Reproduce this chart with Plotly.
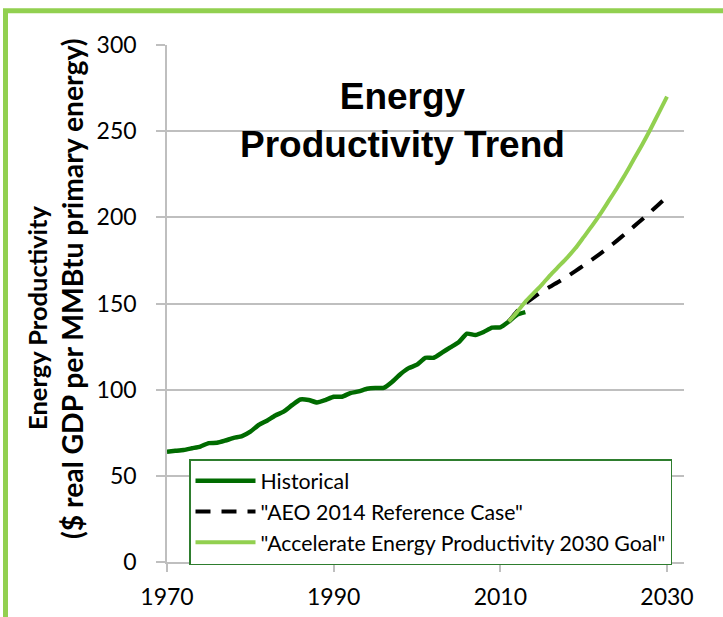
import plotly.graph_objects as go

# ---- data ----
hist_years = list(range(1970, 2014))
hist_values = [64.0, 64.5, 65.0, 66.0, 67.0, 69.0, 69.2, 70.5, 72.0, 73.0,
               75.6, 79.5, 82.0, 85.0, 87.3, 91.0, 94.3, 94.0, 92.6, 94.0,
               95.9, 95.9, 98.0, 99.0, 100.5, 101.0, 101.0, 104.5, 109.0, 112.5,
               114.5, 118.5, 118.5, 121.5, 124.5, 127.5, 132.5, 131.7, 133.5, 136.0,
               136.2, 139.5, 143.5, 145.0]

aeo_years = list(range(2011, 2031))
aeo_values = [139.5, 145.5, 150.0, 153.6, 157.0, 159.8, 162.6, 165.6, 168.8, 172.1,
              175.5, 179.0, 182.6, 186.5, 190.5, 194.6, 198.8, 203.1, 207.5, 212.0]

goal_years = list(range(2011, 2031))
goal_values = [139.5, 145.0, 151.0, 156.0, 161.0, 166.5, 171.5, 176.5, 182.0, 188.5,
               195.0, 202.0, 209.5, 217.0, 225.0, 233.5, 242.0, 251.0, 260.5, 270.0]

x_ticks = [1970, 1990, 2010, 2030]
y_ticks = [0, 50, 100, 150, 200, 250, 300]

title_lines = ["Energy", "Productivity Trend"]
ytitle_lines = ["Energy Productivity", "($ real GDP per MMBtu primary energy)"]
series_names = ["Historical", "\"AEO 2014 Reference Case\"",
                "\"Accelerate Energy Productivity 2030 Goal\""]

# ---- layout geometry (pixels) ----
W, H = 723, 617
L, R, T, B = 167, 684, 45, 562
PW, PH = R - L, B - T


def px_x(x):
    return (x - L) / PW


def px_y(y):
    return (B - y) / PH


FONT = "Lato"
GRID = "#BFBFBF"

fig = go.Figure()
fig.add_trace(go.Scatter(x=hist_years, y=hist_values, mode="lines", name=series_names[0],
                         line=dict(color="#006B00", width=4.5, shape="spline", smoothing=0.5)))
fig.add_trace(go.Scatter(x=aeo_years, y=aeo_values, mode="lines", name=series_names[1],
                         line=dict(color="#000000", width=4, dash="15px,11px",
                                   shape="spline", smoothing=0.5)))
fig.add_trace(go.Scatter(x=goal_years, y=goal_values, mode="lines", name=series_names[2],
                         line=dict(color="#92D050", width=4, shape="spline", smoothing=0.5)))

fig.update_layout(
    width=W, height=H,
    margin=dict(l=L, r=W - R, t=T, b=H - B, pad=0, autoexpand=False),
    paper_bgcolor="white", plot_bgcolor="white",
    font=dict(family=FONT, color="#000000"),
    showlegend=True,
    legend=dict(x=px_x(189), y=px_y(459), xanchor="left", yanchor="top",
                bgcolor="white", bordercolor="#2E7D2E", borderwidth=1.5,
                font=dict(family=FONT, size=21.3, color="#000000"),
                tracegroupgap=0, itemwidth=60),
    xaxis=dict(range=[1970, 1970 + PW / (500 / 60)], tickvals=x_ticks,
               ticktext=[str(v) for v in x_ticks], automargin=False,
               showgrid=False, zeroline=False,
               showline=True, linecolor=GRID, linewidth=1.5,
               ticks="outside", ticklen=8, tickcolor=GRID, tickwidth=1.5,
               tickfont=dict(family=FONT, size=23, color="#000000"),
               ticklabelstandoff=6),
    yaxis=dict(range=[0, 300], tickvals=y_ticks, automargin=False,
               showgrid=True, gridcolor=GRID, gridwidth=1.5, zeroline=False,
               showline=True, linecolor=GRID, linewidth=1.5,
               ticks="outside", ticklen=9, tickcolor=GRID, tickwidth=1.5,
               tickfont=dict(family=FONT, size=23, color="#000000"),
               ticklabelstandoff=15),
)

# chart title inside plot
fig.add_annotation(xref="paper", yref="paper", x=px_x(402), y=px_y(120),
                   text="<b>" + "<br>".join(title_lines) + "</b>", showarrow=False,
                   xanchor="center", yanchor="middle", align="center",
                   font=dict(family="Liberation Sans", size=37, color="#000000"))

# y-axis title lines (rotated)
fig.add_annotation(xref="paper", yref="paper", x=px_x(37), y=px_y(318),
                   text="<b>" + ytitle_lines[0] + "</b>", showarrow=False, textangle=-90,
                   xanchor="center", yanchor="middle",
                   font=dict(family=FONT, size=25.5, color="#000000"))
fig.add_annotation(xref="paper", yref="paper", x=px_x(72), y=px_y(289),
                   text="<b>" + ytitle_lines[1] + "</b>", showarrow=False, textangle=-90,
                   xanchor="center", yanchor="middle",
                   font=dict(family=FONT, size=28.3, color="#000000"))

# green frame (left and top edges visible)
fig.add_shape(type="rect", xref="paper", yref="paper",
              x0=px_x(5.5), y0=px_y(680), x1=px_x(800), y1=px_y(10.8),
              line=dict(color="#92D050", width=5), fillcolor="rgba(0,0,0,0)", layer="above")

fig.write_html("out.html", config={"displayModeBar": False},
               post_script="document.body.style.margin='0px';")
